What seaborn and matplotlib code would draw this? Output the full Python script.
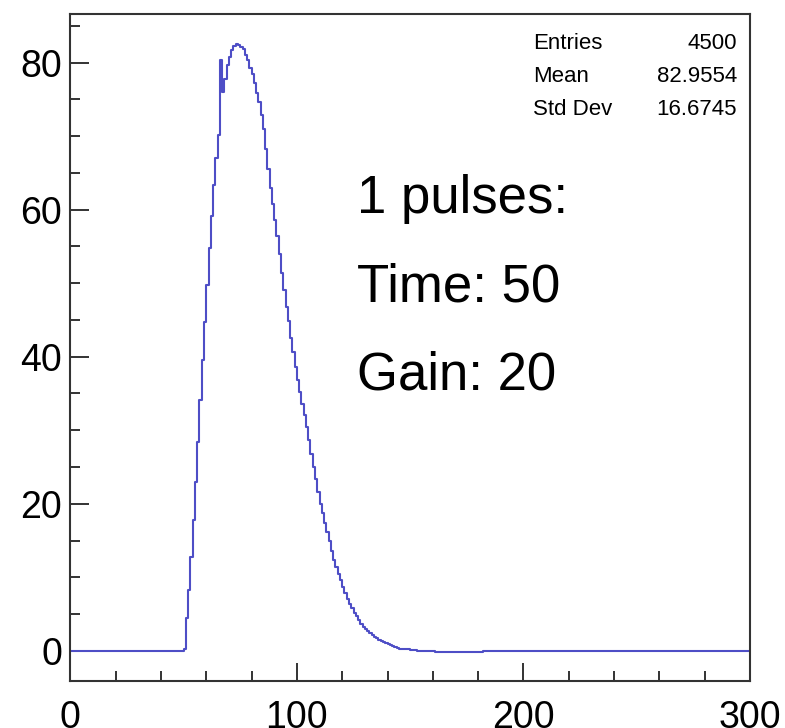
import numpy as np
import pandas as pd
import matplotlib
matplotlib.use("Agg")
import matplotlib.pyplot as plt
import seaborn as sns
from matplotlib.ticker import MultipleLocator

# histogram range (bins of width 1)
x_min = 0
x_max = 300

# pulse region: bin contents starting at bin 50, everything else is 0
pulse_first_bin = 50
pulse_values = [
    0.3, 4.4, 8.3, 12.8, 17.8, 23.0, 28.4, 34.1, 39.5, 44.7,      # 50-59
    49.7, 54.8, 59.1, 63.3, 67.0, 70.1, 80.4, 76.0, 77.8, 79.7,   # 60-69
    80.8, 81.7, 82.2, 82.5, 82.4, 82.1, 81.9, 81.0, 80.3, 79.3,   # 70-79
    78.4, 77.2, 75.9, 74.6, 72.8, 70.9, 68.3, 65.5, 63.0, 60.8,   # 80-89
    58.6, 56.4, 54.0, 51.4, 49.0, 46.8, 44.8, 42.6, 40.6, 38.6,   # 90-99
    36.8, 35.2, 33.6, 32.0, 30.4, 28.7, 26.8, 25.0, 23.3, 21.6,   # 100-109
    20.0, 18.7, 17.4, 16.2, 15.0, 13.6, 12.4, 11.4, 10.4, 9.6,    # 110-119
    8.7, 7.9, 7.1, 6.4, 5.8, 5.2, 4.7, 4.2, 3.7, 3.3,             # 120-129
    3.0, 2.7, 2.4, 2.1, 1.9, 1.7, 1.5, 1.3, 1.2, 1.0,             # 130-139
    0.9, 0.8, 0.6, 0.5, 0.4, 0.3, 0.3, 0.2, 0.2, 0.2,             # 140-149
    0.1, 0.1, 0.1, 0.0, 0.0, 0.0, 0.0, 0.0, 0.0, 0.0,             # 150-159
    0.0, -0.2, -0.2, -0.2, -0.2, -0.2, -0.2, -0.2, -0.2, -0.2,    # 160-169
    -0.2, -0.2, -0.2, -0.2, -0.2, -0.2, -0.2, -0.2, -0.2, -0.2,   # 170-179
    -0.2, -0.2,                                                   # 180-181
]

stats_labels = ["Entries", "Mean", "Std Dev"]
stats_values = ["4500", "82.9554", "16.6745"]
info_lines = ["1 pulses:", "Time: 50", "Gain: 20"]

# build the bin table (low edges + closing edge for the step line)
edges = np.arange(x_min, x_max + 1)
content = np.zeros(len(edges))
content[pulse_first_bin:pulse_first_bin + len(pulse_values)] = pulse_values
df = pd.DataFrame({"x": edges, "y": content})

sns.set_style("ticks")
plt.rcParams["font.family"] = ["Liberation Sans", "DejaVu Sans"]
plt.rcParams["text.color"] = "black"
plt.rcParams["xtick.labelcolor"] = "black"
plt.rcParams["ytick.labelcolor"] = "black"

fig = plt.figure(figsize=(7.85, 7.28), dpi=100)
ax = fig.add_axes([0.0896, 0.0646, 0.8658, 0.9162])

sns.lineplot(data=df, x="x", y="y", ax=ax, drawstyle="steps-post",
             color="#4e4ec6", linewidth=1.5, estimator=None)

ax.set_xlim(x_min, x_max)
ax.set_ylim(-4.1, 86.6)
ax.set_xlabel("")
ax.set_ylabel("")

ax.xaxis.set_major_locator(MultipleLocator(100))
ax.xaxis.set_minor_locator(MultipleLocator(20))
ax.yaxis.set_major_locator(MultipleLocator(20))
ax.yaxis.set_minor_locator(MultipleLocator(5))

frame_color = "#333333"
for side in ["left", "right", "top", "bottom"]:
    ax.spines[side].set_visible(True)
    ax.spines[side].set_color(frame_color)
    ax.spines[side].set_linewidth(1.5)

ax.tick_params(axis="both", which="both", direction="in", color=frame_color,
               width=1.4, top=False, right=False, labelcolor="black")
ax.tick_params(axis="x", which="major", length=13, labelsize=27, pad=14)
ax.tick_params(axis="x", which="minor", length=7)
ax.tick_params(axis="y", which="major", length=14, labelsize=27, pad=6)
ax.tick_params(axis="y", which="minor", length=7)

# stats box text
for i, (lab, val) in enumerate(zip(stats_labels, stats_values)):
    yb = 49.3 + i * 32.8
    fig.text(533 / 785, 1 - yb / 728, lab, fontsize=16, ha="left", va="baseline", color="black")
    fig.text(737 / 785, 1 - yb / 728, val, fontsize=16, ha="right", va="baseline", color="black")

# pulse information
for i, line in enumerate(info_lines):
    yb = 213 + i * 88
    fig.text(357 / 785, 1 - yb / 728, line, fontsize=38, ha="left", va="baseline", color="black")

fig.savefig("out.png", dpi=100)
